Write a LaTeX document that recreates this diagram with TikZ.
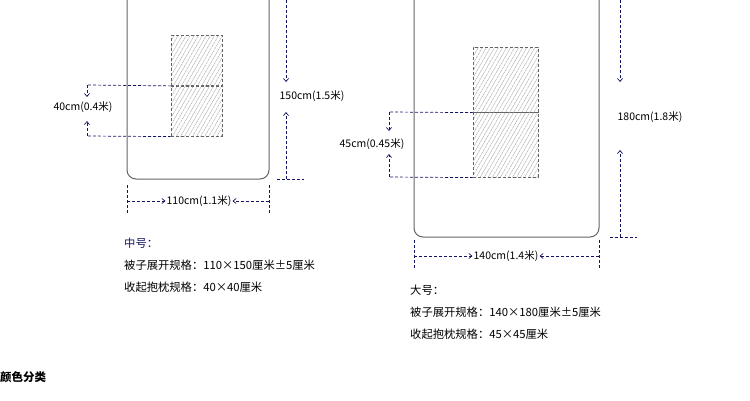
\documentclass[tikz,border=0pt]{standalone}
\usepackage{fontspec}
\setmainfont{Noto Sans CJK SC}
\usetikzlibrary{patterns.meta,arrows.meta}
\definecolor{navy}{RGB}{20,20,100}
\definecolor{boxg}{RGB}{100,100,100}
\tikzset{
 dim/.style={navy,densely dashed,line width=0.7pt},
 arr/.style={dim,-{Straight Barb[length=3pt,width=5pt]}},
 bigbox/.style={draw=boxg,line width=1pt,rounded corners=9pt},
 pillow/.style={draw=boxg,densely dashed,line width=0.6pt,pattern={Lines[angle=60,distance=3.5pt,line width=0.4pt]},pattern color=gray!70},
 lbl/.style={font=\fontsize{10.5}{12}\selectfont,text=black,inner sep=1pt},
 txt/.style={font=\fontsize{11.3}{13}\selectfont,text=black,anchor=west,inner sep=0pt}
}
\begin{document}
\begin{tikzpicture}[x=1pt,y=-1pt]
\useasboundingbox (0,0) rectangle (750,400);
% left
\draw[bigbox] (127,-20) rectangle (269,179);
\node[pillow,minimum width=51pt,minimum height=50.5pt,anchor=north west] (p1) at (171,35) {};
\node[pillow,minimum width=51pt,minimum height=50.5pt,anchor=north west] (p2) at (171,85.5) {};
\coordinate (a1) at (87,85); \coordinate (a2) at (87,136);
\draw[dim] (p1.south west) -- (a1);
\draw[dim] (p2.south west) -- (a2);
\node[lbl] (l40) at (83,107) {40cm(0.4米)};
\draw[arr] (a1) -- (87,97);
\draw[arr] (a2) -- (87,121);
\coordinate (t1) at (286,0);
\draw[arr] (t1) -- (286,82);
\node[lbl] (l150) at (312,96) {150cm(1.5米)};
\coordinate (b1) at (286,179);
\draw[arr] (b1) -- (286,112);
\draw[dim] (277,179) -- (304,179);
\draw[dim] (127,185) -- (127,213);
\draw[dim] (269,185) -- (269,213);
\node[lbl] (l110) at (199,201) {110cm(1.1米)};
\draw[arr] (127,201) -- (l110.west);
\draw[arr] (269,201) -- (l110.east);
\node[txt,text=navy] (h1) at (124,243) {中号：};
\node[txt] (h1a) at (124,265) {被子展开规格：110×150厘米±5厘米};
\node[txt] (h1b) at (124,287) {收起抱枕规格：40×40厘米};
% right
\draw[bigbox] (414,-20) rectangle (599,237);
\node[pillow,minimum width=65pt,minimum height=65pt,anchor=north west] (q1) at (473,47) {};
\node[pillow,minimum width=65pt,minimum height=65pt,anchor=north west] (q2) at (473,112) {};
\coordinate (c1) at (389,112); \coordinate (c2) at (389,177);
\draw[dim] (q1.south west) -- (c1);
\draw[dim] (q2.south west) -- (c2);
\node[lbl] (l45) at (372,144) {45cm(0.45米)};
\draw[arr] (c1) -- (389,131);
\draw[arr] (c2) -- (389,154);
\draw[arr] (620,0) -- (620,82);
\node[lbl] (l180) at (650,117) {180cm(1.8米)};
\draw[arr] (620,237) -- (620,150);
\draw[dim] (610,237) -- (637,237);
\draw[dim] (414,240) -- (414,268);
\draw[dim] (599,240) -- (599,268);
\node[lbl] (l140) at (506,256) {140cm(1.4米)};
\draw[arr] (414,256) -- (l140.west);
\draw[arr] (599,256) -- (l140.east);
\node[txt] (h2) at (410,290) {大号：};
\node[txt] (h2a) at (410,312) {被子展开规格：140×180厘米±5厘米};
\node[txt] (h2b) at (410,334) {收起抱枕规格：45×45厘米};
\node[txt,font=\fontsize{11.5}{13}\selectfont\bfseries] (h3) at (0,377) {颜色分类};
\end{tikzpicture}
\end{document}
